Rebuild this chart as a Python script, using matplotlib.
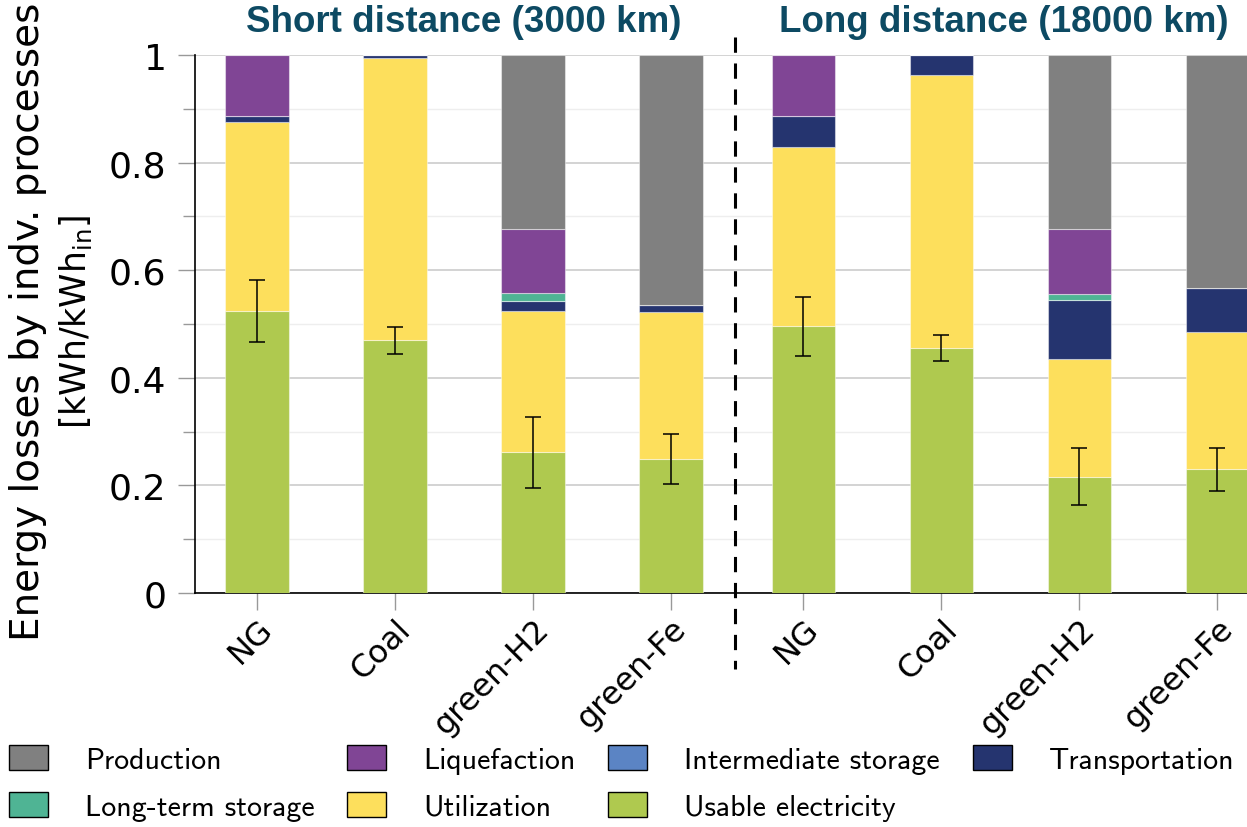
import numpy as np
from matplotlib import pyplot as plt
from matplotlib.patches import Patch

carriers = ["NG", "Coal", "green-H2", "green-Fe"]

# stacked shares per carrier, bottom to top
usable_short = [0.524, 0.470, 0.262, 0.249]
util_short = [0.351, 0.525, 0.263, 0.273]
transport_short = [0.011, 0.005, 0.018, 0.013]
inter_short = [0.0, 0.0, 0.0, 0.0]
longterm_short = [0.0, 0.0, 0.014, 0.0]
liquef_short = [0.114, 0.0, 0.120, 0.0]
prod_short = [0.0, 0.0, 0.323, 0.465]
err_short = [0.058, 0.025, 0.066, 0.047]

usable_long = [0.496, 0.455, 0.216, 0.230]
util_long = [0.333, 0.507, 0.219, 0.256]
transport_long = [0.057, 0.038, 0.110, 0.080]
inter_long = [0.0, 0.0, 0.0, 0.0]
longterm_long = [0.0, 0.0, 0.010, 0.0]
liquef_long = [0.114, 0.0, 0.122, 0.0]
prod_long = [0.0, 0.0, 0.323, 0.434]
err_long = [0.055, 0.024, 0.053, 0.040]

labels = ["Usable electricity", "Utilization", "Transportation",
          "Intermediate storage", "Long-term storage", "Liquefaction", "Production"]
colors = ["#afc94f", "#fddf5c", "#25346f", "#5b84c4", "#4fb494", "#804595", "#808080"]

stacks = [
    usable_short + usable_long,
    util_short + util_long,
    transport_short + transport_long,
    inter_short + inter_long,
    longterm_short + longterm_long,
    liquef_short + liquef_long,
    prod_short + prod_long,
]
errs = err_short + err_long

x = np.array([0, 1, 2, 3, 3.96, 4.96, 5.96, 6.96])
width = 0.46

fig = plt.figure(figsize=(12.47, 8.28), dpi=100)
ax = fig.add_axes([195 / 1247, 1 - 594 / 828, 1 - 195 / 1247, 538 / 828])

bottom = np.zeros(len(x))
for vals, c in zip(stacks, colors):
    vals = np.array(vals)
    ax.bar(x, vals, width, bottom=bottom, color=c, edgecolor=(1, 1, 1, 0.45),
           linewidth=0.8, zorder=3)
    bottom += vals

ax.errorbar(x, stacks[0], yerr=errs, fmt="none", ecolor="black", elinewidth=1.1,
            capsize=6, capthick=1.1, zorder=4)

ax.set_ylim(0, 1)
ax.set_xlim(-0.449, 7.174)
ax.set_yticks([0, 0.2, 0.4, 0.6, 0.8, 1])
ax.set_yticklabels(["0", "0.2", "0.4", "0.6", "0.8", "1"])
ax.set_yticks(np.arange(0.1, 1.0, 0.2), minor=True)
ax.grid(axis="y", which="major", color="#cccccc", lw=1.2, zorder=0)
ax.grid(axis="y", which="minor", color="#eeeeee", lw=1.0, zorder=0)
ax.set_xticks(x)
ax.set_xticklabels(carriers * 2, rotation=45, ha="right", va="top",
                   rotation_mode="anchor", fontsize=23)
ax.tick_params(axis="both", which="major", length=12.5, width=1, color="#999999")
ax.tick_params(axis="y", which="minor", length=8.5, width=1, color="#999999")
ax.tick_params(axis="y", labelsize=26, pad=8)
ax.tick_params(axis="x", pad=2)
for s in ["top", "right"]:
    ax.spines[s].set_visible(False)
for s in ["left", "bottom"]:
    ax.spines[s].set_linewidth(1.2)

fig.text(28 / 1247, 1 - 322 / 828, "Energy losses by indv. processes",
         rotation=90, ha="center", va="center", fontsize=28)
fig.text(76 / 1247, 1 - 322 / 828, r"[kWh/kWh$_{\mathrm{in}}$]",
         rotation=90, ha="center", va="center", fontsize=25)

title_color = "#0d4a63"
fig.text(464 / 1247, 1 - 23 / 828, "Short distance (3000 km)", ha="center",
         va="center", fontsize=26.5, fontweight="bold", color=title_color,
         family="Liberation Sans")
fig.text(1004 / 1247, 1 - 23 / 828, "Long distance (18000 km)", ha="center",
         va="center", fontsize=26.5, fontweight="bold", color=title_color,
         family="Liberation Sans")

# separator between the two distance groups
fig.add_artist(plt.Line2D([735 / 1247, 735 / 1247], [1 - 38 / 828, 1 - 670 / 828],
                          color="black", lw=2.2, ls=(0, (5, 3.5))))

order = ["Production", "Long-term storage", "Liquefaction", "Utilization",
         "Intermediate storage", "Usable electricity", "Transportation"]
handles = [Patch(facecolor=colors[labels.index(n)], edgecolor="black", lw=1)
           for n in order]
fig.legend(handles, order, loc="upper left", bbox_to_anchor=(9 / 1247, 1 - 746 / 828),
           ncol=4, frameon=False, borderpad=0, borderaxespad=0,
           handlelength=1.3, handleheight=0.9, handletextpad=1.24,
           columnspacing=1.1, labelspacing=0.62,
           prop={"family": ["cmss10", "DejaVu Sans"], "size": 21.5})

plt.savefig("out.png", dpi=100)
